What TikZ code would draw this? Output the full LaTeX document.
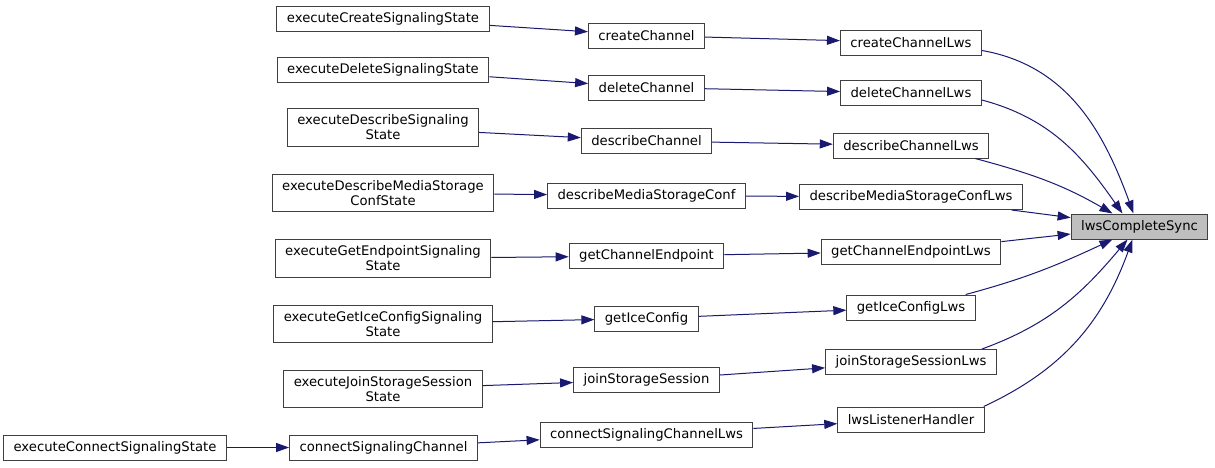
\documentclass[tikz,border=0pt]{standalone}
\usepackage{fontspec}
\setmainfont{DejaVu Sans}
\usetikzlibrary{arrows.meta}

\definecolor{edgeblue}{HTML}{191970}
\definecolor{syncgray}{HTML}{BFBFBF}

\begin{document}
\begin{tikzpicture}[
    x=1pt, y=1pt,
    fn/.style={draw=black!75, line width=1pt, minimum height=25pt,
               inner xsep=10pt, inner ysep=6pt, align=center,
               font=\fontsize{13.2pt}{15pt}\selectfont},
    root/.style={fn, fill=syncgray},
    arrow/.style={-{Triangle[length=13pt, width=9pt, fill=edgeblue]},
                  draw=edgeblue, line width=1pt}
]
\useasboundingbox (0,0) rectangle (1215,-467);

% Callers of the callers
\node[fn] (exCreate)    at (383, -18.5) {executeCreateSignalingState};
\node[fn] (exDelete)    at (383, -69.5) {executeDeleteSignalingState};
\node[fn] (exDescribe)  at (383,-127.5) {executeDescribeSignaling\\State};
\node[fn] (exDescMedia) at (383,-193)   {executeDescribeMediaStorage\\ConfState};
\node[fn] (exEndpoint)  at (383,-258.5) {executeGetEndpointSignaling\\State};
\node[fn] (exIce)       at (383,-324)   {executeGetIceConfigSignaling\\State};
\node[fn] (exJoin)      at (383,-389)   {executeJoinStorageSession\\State};
\node[fn] (exConnect)   at (115,-447.5) {executeConnectSignalingState};
\node[fn] (connectCh)   at (383.5,-447.5) {connectSignalingChannel};

% Signaling client calls
\node[fn] (createCh)     at (646.5, -35.5) {createChannel};
\node[fn] (deleteCh)     at (646.5, -87.5) {deleteChannel};
\node[fn] (describeCh)   at (646.5,-141)   {describeChannel};
\node[fn] (describeMsc)  at (646.5,-195.5) {describeMediaStorageConf};
\node[fn] (getEndpoint)  at (646.5,-256)   {getChannelEndpoint};
\node[fn] (getIce)       at (646.5,-318.5) {getIceConfig};
\node[fn] (joinSession)  at (646.5,-380)   {joinStorageSession};
\node[fn] (connectChLws) at (646.5,-434.5) {connectSignalingChannelLws};

% Lws wrappers
\node[fn] (createLws)      at (911, -42.5) {createChannelLws};
\node[fn] (deleteLws)      at (911, -93)   {deleteChannelLws};
\node[fn] (describeLws)    at (911,-145.5) {describeChannelLws};
\node[fn] (describeMscLws) at (911,-197)   {describeMediaStorageConfLws};
\node[fn] (endpointLws)    at (911,-251.5) {getChannelEndpointLws};
\node[fn] (iceLws)         at (911,-307.5) {getIceConfigLws};
\node[fn] (joinLws)        at (911,-362)   {joinStorageSessionLws};
\node[fn] (listener)       at (911,-419.5) {lwsListenerHandler};

% Function of interest
\node[root] (sync) at (1139.5,-226.5) {lwsCompleteSync};

% Straight calls
\draw[arrow] (exCreate) -- (createCh);
\draw[arrow] (exDelete) -- (deleteCh);
\draw[arrow] (exDescribe) -- (describeCh);
\draw[arrow] (exDescMedia) -- (describeMsc);
\draw[arrow] (exEndpoint) -- (getEndpoint);
\draw[arrow] (exIce) -- (getIce);
\draw[arrow] (exJoin) -- (joinSession);
\draw[arrow] (exConnect) -- (connectCh);
\draw[arrow] (connectCh) -- (connectChLws);

\draw[arrow] (createCh) -- (createLws);
\draw[arrow] (deleteCh) -- (deleteLws);
\draw[arrow] (describeCh) -- (describeLws);
\draw[arrow] (describeMsc) -- (describeMscLws);
\draw[arrow] (getEndpoint) -- (endpointLws);
\draw[arrow] (getIce) -- (iceLws);
\draw[arrow] (joinSession) -- (joinLws);
\draw[arrow] (connectChLws) -- (listener);

% Converging on lwsCompleteSync
\draw[arrow] ([yshift=-8pt]createLws.east) to[out=-10, in=110] ([xshift=-6pt]sync.north);
\draw[arrow] ([yshift=-7pt]deleteLws.east) to[out=-15, in=125] ([xshift=-17pt]sync.north);
\draw[arrow] ([xshift=-14pt]describeLws.south east) to[out=-15, in=150] ([xshift=-27pt]sync.north);
\draw[arrow] (describeMscLws) -- (sync);
\draw[arrow] (endpointLws) -- (sync);
\draw[arrow] ([xshift=-10pt]iceLws.north east) to[out=15, in=-155] ([xshift=-27pt]sync.south);
\draw[arrow] ([xshift=-15pt]joinLws.north east) to[out=20, in=-130] ([xshift=-12pt]sync.south);
\draw[arrow] ([xshift=-1pt]listener.north east) to[out=25, in=-110] ([xshift=-7pt]sync.south);
\end{tikzpicture}
\end{document}
